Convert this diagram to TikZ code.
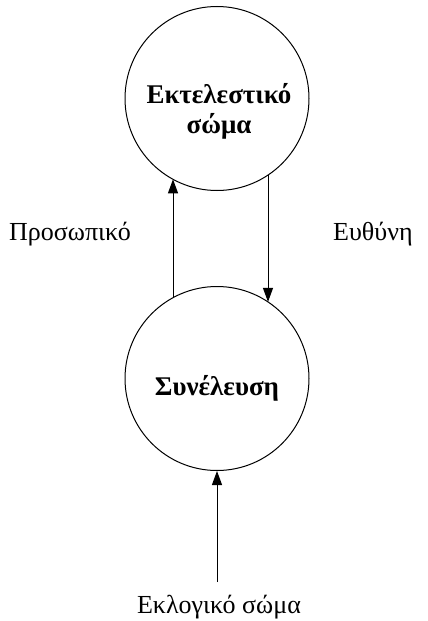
\documentclass[tikz,border=0pt]{standalone}
\usepackage{fontspec}
\setmainfont{Liberation Serif}
\usetikzlibrary{arrows.meta,calc}
\begin{document}
\begin{tikzpicture}[x=1pt,y=-1pt,
  circ/.style={circle,draw,line width=1pt,minimum size=184pt,inner sep=0pt},
  conn/.style={line width=1pt,-{Triangle[length=14pt,width=10pt]}},
  lbl/.style={font=\fontsize{26}{30}\selectfont,inner sep=0pt},
  ctext/.style={font=\fontsize{27}{30}\selectfont\bfseries,align=center,inner sep=0pt}]
\useasboundingbox (0,0) rectangle (428,621);
\node[circ] (exec) at (217,98.5) {};
\node[circ] (ass) at (217,378.5) {};
\node[ctext] (exectxt) at (219,111) {Εκτελεστικό\\σώμα};
\node[ctext,anchor=base] (asstxt) at (217,395) {Συνέλευση};
\node[lbl,anchor=base west] (pers) at (9,240) {Προσωπικό};
\node[lbl,anchor=base west] (resp) at (333,240) {Ευθύνη};
\node[lbl,anchor=base] (elect) at (219,613) {Εκλογικό σώμα};
\coordinate (a1) at ($(ass.center)+(-44,-80.8)$);
\coordinate (b1) at ($(exec.center)+(-44,80.8)$);
\coordinate (a2) at ($(exec.center)+(51,76.6)$);
\coordinate (b2) at ($(ass.center)+(51,-76.6)$);
\coordinate (e0) at (217,582);
\draw[conn] (a1) -- (b1);
\draw[conn] (a2) -- (b2);
\draw[conn] (e0) -- (ass.south);
\end{tikzpicture}
\end{document}
